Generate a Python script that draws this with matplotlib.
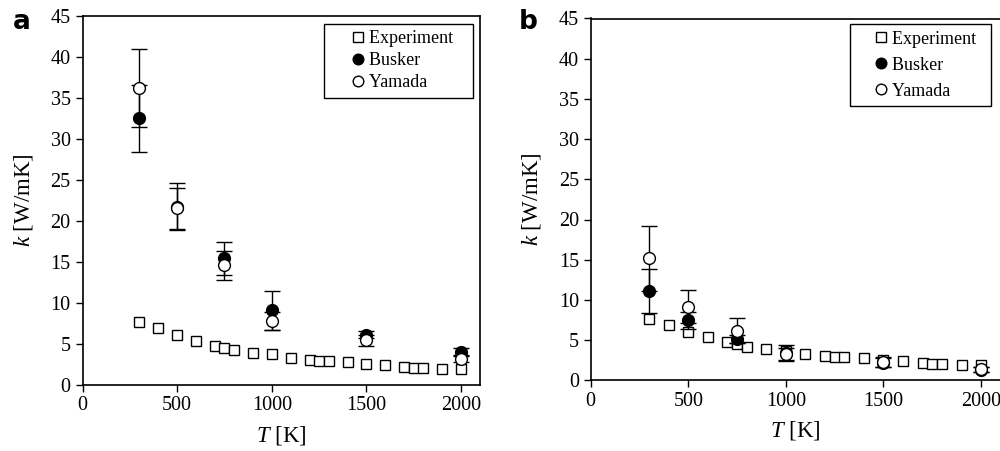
import matplotlib
matplotlib.use("Agg")
import matplotlib.pyplot as plt

plt.rcParams['font.family'] = ['Liberation Serif', 'DejaVu Serif']
plt.rcParams['mathtext.fontset'] = 'custom'
plt.rcParams['mathtext.rm'] = 'Liberation Serif'
plt.rcParams['mathtext.it'] = 'Liberation Serif:italic'

# ---- data ----
T_exp = [300, 400, 500, 600, 700, 750, 800, 900, 1000, 1100, 1200, 1250,
         1300, 1400, 1500, 1600, 1700, 1750, 1800, 1900, 2000]
k_exp = [7.6, 6.85, 6.0, 5.35, 4.75, 4.5, 4.2, 3.9, 3.7, 3.25, 3.0, 2.9,
         2.85, 2.75, 2.55, 2.4, 2.15, 2.0, 2.0, 1.9, 1.9]

T_sim = [300, 500, 750, 1000, 1500, 2000]

busker_a = [32.5, 21.7, 15.4, 9.05, 6.1, 4.0]
busker_a_err = [4.1, 2.9, 2.0, 2.35, 0.45, 0.4]
yamada_a = [36.2, 21.5, 14.55, 7.7, 5.4, 3.1]
yamada_a_err = [4.75, 2.5, 1.8, 1.1, 0.7, 0.4]

busker_b = [11.1, 7.45, 5.1, 3.4, 2.2, 1.3]
busker_b_err = [2.75, 1.1, 0.5, 1.0, 0.6, 0.3]
yamada_b = [15.15, 9.15, 6.15, 3.3, 2.25, 1.35]
yamada_b_err = [4.05, 2.05, 1.55, 0.75, 0.65, 0.3]

series_names = ['Experiment', 'Busker', 'Yamada']
x_ticks = [0, 500, 1000, 1500, 2000]
y_ticks = [0, 5, 10, 15, 20, 25, 30, 35, 40, 45]

fig = plt.figure(figsize=(10, 4.51), dpi=100)
W, H = 1000, 451

def make_axes(l, r, t, b):
    return fig.add_axes([l / W, (H - b) / H, (r - l) / W, (b - t) / H])

ax_a = make_axes(82.5, 480, 15.7, 384.5)
ax_b = make_axes(590.7, 1000.6, 18.5, 380.3)

# per-panel legend layout: labelspacing, anchor(px), handlelength, textpad, trailing pad
panels = [
    (ax_a, busker_a, busker_a_err, yamada_a, yamada_a_err, 'a', (22, 22),
     (0.28, (473, 24), 3.1, -0.94, '   ')),
    (ax_b, busker_b, busker_b_err, yamada_b, yamada_b_err, 'b', (528, 22),
     (0.5, (991, 24.3), 2.78, -0.83, '  ')),
]

for ax, bk, bke, ym, yme, letter, lpos, lg in panels:
    lsp, lanchor, hlen, htp, tail = lg
    ax.errorbar(T_sim, bk, yerr=bke, fmt='none', ecolor='black',
                elinewidth=1.0, capsize=6, capthick=1.0, zorder=2)
    ax.errorbar(T_sim, ym, yerr=yme, fmt='none', ecolor='black',
                elinewidth=1.0, capsize=6, capthick=1.0, zorder=2)
    h_exp, = ax.plot(T_exp, k_exp, linestyle='none', marker='s',
                     markersize=7.5, markerfacecolor='white',
                     markeredgecolor='black', markeredgewidth=1.0,
                     zorder=1)
    h_bk, = ax.plot(T_sim, bk, linestyle='none', marker='o', markersize=8.5,
                    markerfacecolor='black', markeredgecolor='black',
                    markeredgewidth=1.0, zorder=3)
    h_ym, = ax.plot(T_sim, ym, linestyle='none', marker='o', markersize=8.5,
                    markerfacecolor='white', markeredgecolor='black',
                    markeredgewidth=1.0, zorder=4)
    ax.set_xlim(0, 2100)
    ax.set_ylim(0, 45)
    ax.set_xticks(x_ticks)
    ax.set_yticks(y_ticks)
    ax.tick_params(direction='out', length=5, width=1, labelsize=14.5,
                   colors='black')
    for s in ax.spines.values():
        s.set_linewidth(1.2)
        s.set_color('black')
    ax.set_xlabel(r'$T$ [K]', fontsize=16.5, labelpad=6)
    ax.set_ylabel(r'$k$ [W/mK]', fontsize=16.5, labelpad=11)
    leg = ax.legend([h_exp, h_bk, h_ym], [n + tail for n in series_names],
                    loc='upper right',
                    bbox_to_anchor=(lanchor[0] / W, 1 - lanchor[1] / H),
                    bbox_transform=fig.transFigure, borderaxespad=0,
                    fontsize=13, frameon=True, fancybox=False,
                    edgecolor='black', framealpha=1, handlelength=hlen,
                    handletextpad=htp, borderpad=0.35, labelspacing=lsp,
                    markerscale=0.9)
    leg.get_frame().set_linewidth(1.0)
    fig.text(lpos[0] / W, 1 - lpos[1] / H, letter, fontsize=19,
             fontweight='bold', family='DejaVu Sans', ha='center',
             va='center')

fig.savefig('out.png', dpi=100)
